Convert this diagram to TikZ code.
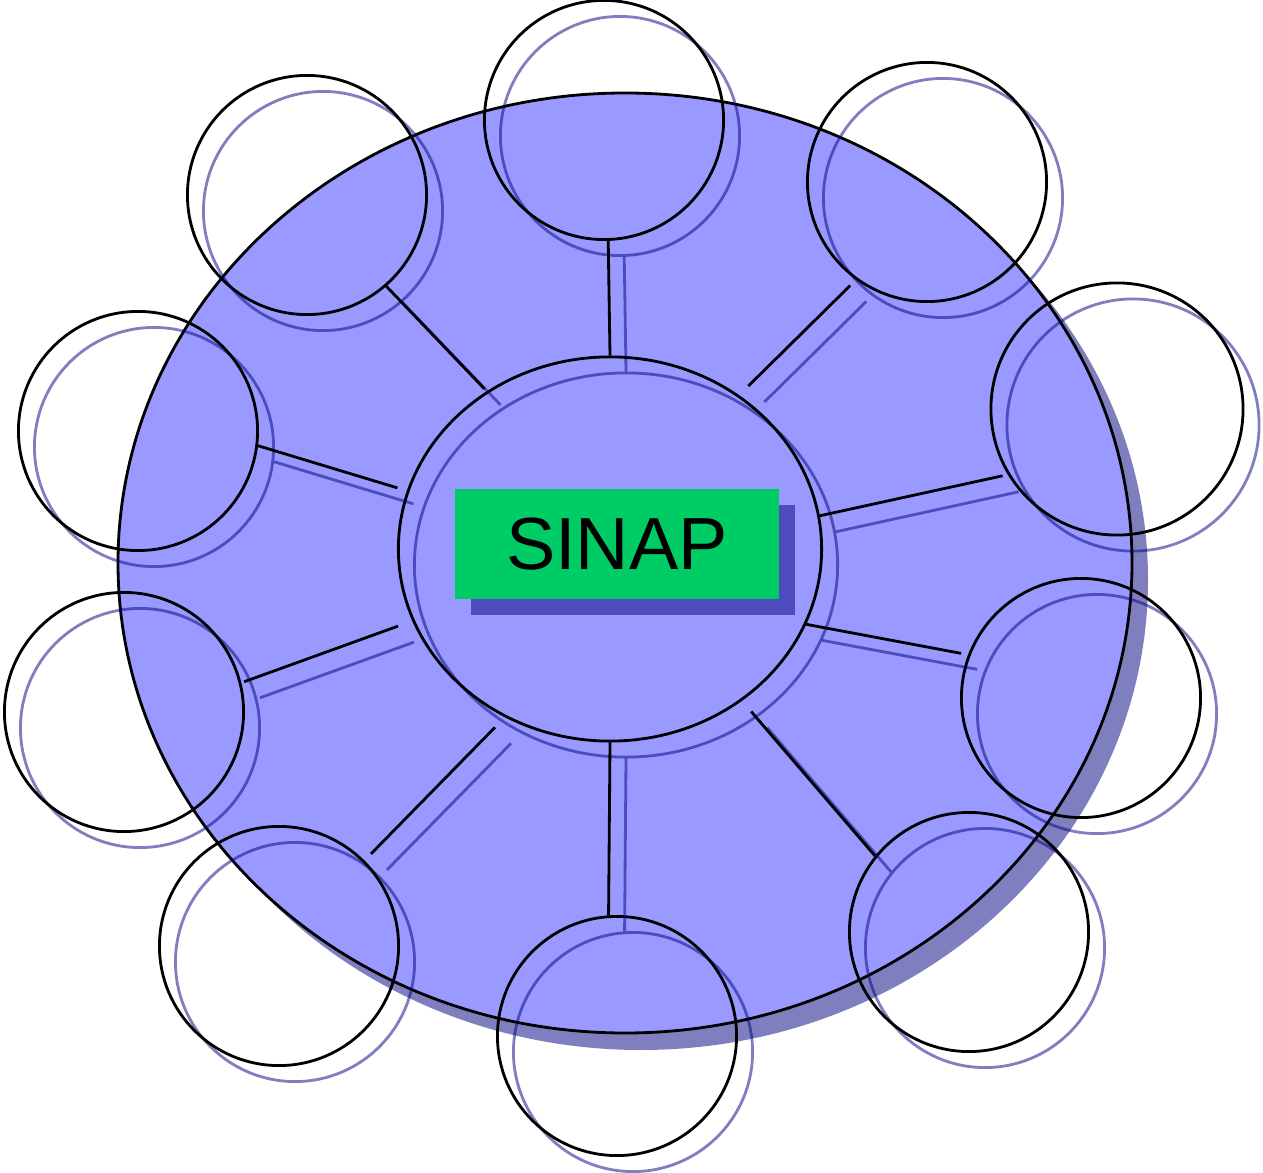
\documentclass[tikz,border=0pt]{standalone}
\usepackage{fontspec}
\setmainfont{Liberation Sans}
\usetikzlibrary{shapes.geometric,shadows}
\definecolor{sheet}{HTML}{9999FF}
\definecolor{leaf}{HTML}{00CC66}
\definecolor{ink}{HTML}{000080}
\tikzset{
  shade/.style={draw=ink,opacity=.5,line width=.8pt},
  ring/.style={circle,draw,line width=.8pt,inner sep=0pt,minimum size=2.39cm,
    drop shadow={shadow xshift=.16cm,shadow yshift=-.16cm,fill=none,draw=ink,opacity=.5,line width=.8pt}},
  link/.style={line width=.8pt}
}
\begin{document}
\begin{tikzpicture}[x=0.01cm,y=-0.01cm]
\useasboundingbox (0,0) rectangle (1263,1173);
\fill[ink,opacity=.5] (641,580) ellipse [x radius=507,y radius=470];
\filldraw[fill=sheet,line width=.8pt] (625,563) ellipse [x radius=507,y radius=470];
\node[ring,ellipse,minimum width=4.23cm,minimum height=3.84cm] (hub) at (610,549) {};
\node[ring] (c1) at (604,120) {};
\node[ring] (c2) at (927,182) {};
\node[ring,minimum size=2.52cm] (c3) at (1117,409) {};
\node[ring] (c4) at (1081,698) {};
\node[ring] (c5) at (969,932) {};
\node[ring] (c6) at (617,1036) {};
\node[ring] (c7) at (279,946) {};
\node[ring] (c8) at (124,712) {};
\node[ring] (c9) at (138,431) {};
\node[ring] (c10) at (307,195) {};
% spokes and their shadows
\foreach \c/\a/\b/\s/\t in {c1/-88/90/0pt/0pt, c2/-126/50/2.3pt/3.7pt, c3/211/9/1.5pt/0pt,
  c4/159/-21/2pt/0pt, c5/141/-49/0pt/4pt, c6/94/-90/0pt/0pt, c7/45/-122/2.6pt/4pt,
  c8/14/200/0.8pt/4.3pt, c9/-7/164/0pt/2.8pt, c10/-49/128/0pt/0.9pt}{
  \draw[shade,transform canvas={shift={(.16cm,-.16cm)}},shorten <=\s,shorten >=\t] (\c.\a) -- (hub.\b);
  \draw[link,shorten <=\s,shorten >=\t] (\c.\a) -- (hub.\b);
}
\node[fill=leaf,minimum width=3.24cm,minimum height=1.1cm,inner sep=0pt,font=\fontsize{21}{25}\selectfont,
  drop shadow={shadow xshift=.16cm,shadow yshift=-.16cm,fill=ink,opacity=.5}] (sinap) at (617,544) {SINAP};
\end{tikzpicture}
\end{document}
